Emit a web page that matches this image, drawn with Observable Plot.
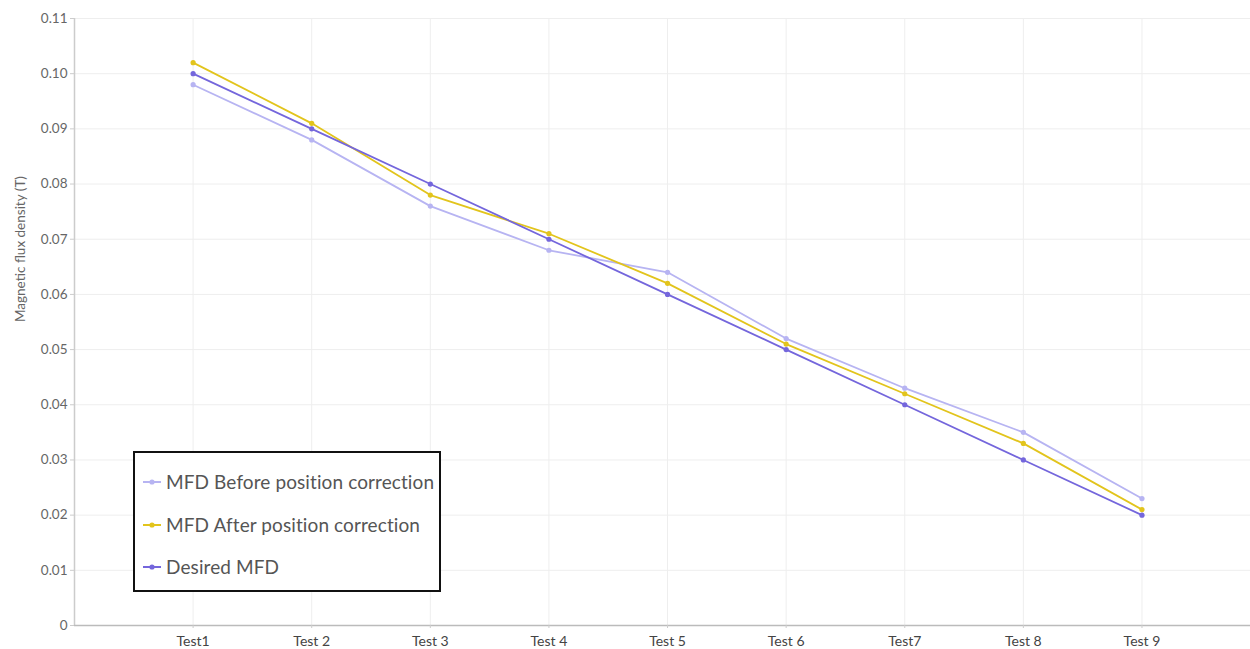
<!DOCTYPE html>
<html>
<head>
<meta charset="utf-8">
<script src="https://cdn.jsdelivr.net/npm/d3@7"></script>
<script src="https://cdn.jsdelivr.net/npm/@observablehq/plot@0.6"></script>
<style>
  html, body { margin: 0; padding: 0; background: #fff; }
  #wrap { position: relative; width: 1250px; height: 649px; font-family: Lato, "Open Sans", sans-serif; }
  #legend { position: absolute; left: 133px; top: 451px; width: 304px; height: 137px; border: 2px solid #111; background: #fff; box-sizing: content-box; }
  .item { position: absolute; left: 5px; display: flex; align-items: center; font-size: 19px; color: #555; white-space: nowrap; letter-spacing: 0.1px; }
  .item svg { margin-right: 4px; }
</style>
</head>
<body>
<div id="wrap"></div>
<script>
const categories = ["Test1", "Test 2", "Test 3", "Test 4", "Test 5", "Test 6", "Test7", "Test 8", "Test 9"];
const seriesNames = ["MFD Before position correction", "MFD After position correction", "Desired MFD"];
const before = [0.098, 0.088, 0.076, 0.068, 0.064, 0.052, 0.043, 0.035, 0.023];
const after = [0.102, 0.091, 0.078, 0.071, 0.062, 0.051, 0.042, 0.033, 0.021];
const desired = [0.100, 0.090, 0.080, 0.070, 0.060, 0.050, 0.040, 0.030, 0.020];
const colors = ["#b7b4f2", "#e2c41c", "#7466dc"];
const yTicks = [0, 0.01, 0.02, 0.03, 0.04, 0.05, 0.06, 0.07, 0.08, 0.09, 0.10, 0.11];

const seriesValues = [before, after, desired];
const data = [];
seriesValues.forEach((vals, s) => vals.forEach((v, i) => data.push({series: seriesNames[s], idx: i + 1, cat: categories[i], value: v})));
const catIdx = categories.map((c, i) => i + 1);
const yFmt = d => d === 0 ? "0" : d3.format(".2f")(d);

const chart = Plot.plot({
  width: 1250,
  height: 649,
  marginTop: 18,
  marginBottom: 24,
  marginLeft: 74,
  marginRight: 0,
  style: {fontFamily: "Lato, 'Open Sans', sans-serif", fontSize: "13px", color: "#555", background: "#fff"},
  x: {type: "linear", domain: [0, 9.915], label: null},
  y: {domain: [0, 0.11], label: null},
  color: {domain: seriesNames, range: colors},
  marks: [
    Plot.gridY(yTicks, {stroke: "#eee", strokeOpacity: 1}),
    Plot.gridX(catIdx, {stroke: "#eee", strokeOpacity: 1}),
    Plot.ruleX([0], {stroke: "#ccc", strokeWidth: 1.5}),
    Plot.ruleY([0], {stroke: "#bbb", strokeWidth: 1.5}),
    Plot.axisY({ticks: yTicks, tickFormat: yFmt, tickSize: 4, tickPadding: 3, stroke: "#ccc", fill: "#666", fontSize: 13.5, label: null}),
    Plot.axisX({ticks: catIdx, tickFormat: i => categories[i - 1], tickSize: 3, stroke: "#ccc", fill: "#444", fontSize: 14, label: null, tickPadding: 8}),
    Plot.line(data, {x: "idx", y: "value", z: "series", stroke: "series", strokeWidth: 1.8}),
    Plot.dot(data, {x: "idx", y: "value", fill: "series", r: 2.6}),
    Plot.text(["Magnetic flux density (T)"], {frameAnchor: "left", dx: -54, rotate: -90, fill: "#666", fontSize: 13.5})
  ]
});

const wrap = document.getElementById("wrap");
wrap.appendChild(chart);

const legend = document.createElement("div");
legend.id = "legend";
const tops = [17, 60, 102];
seriesNames.forEach((name, i) => {
  const it = document.createElement("div");
  it.className = "item";
  it.style.top = tops[i] + "px";
  it.innerHTML = `<svg width="22" height="10"><line x1="3" y1="5" x2="21" y2="5" stroke="${colors[i]}" stroke-width="2"/><circle cx="12" cy="5" r="2.6" fill="${colors[i]}"/></svg><span>${name}</span>`;
  legend.appendChild(it);
});
wrap.appendChild(legend);
</script>
</body>
</html>
